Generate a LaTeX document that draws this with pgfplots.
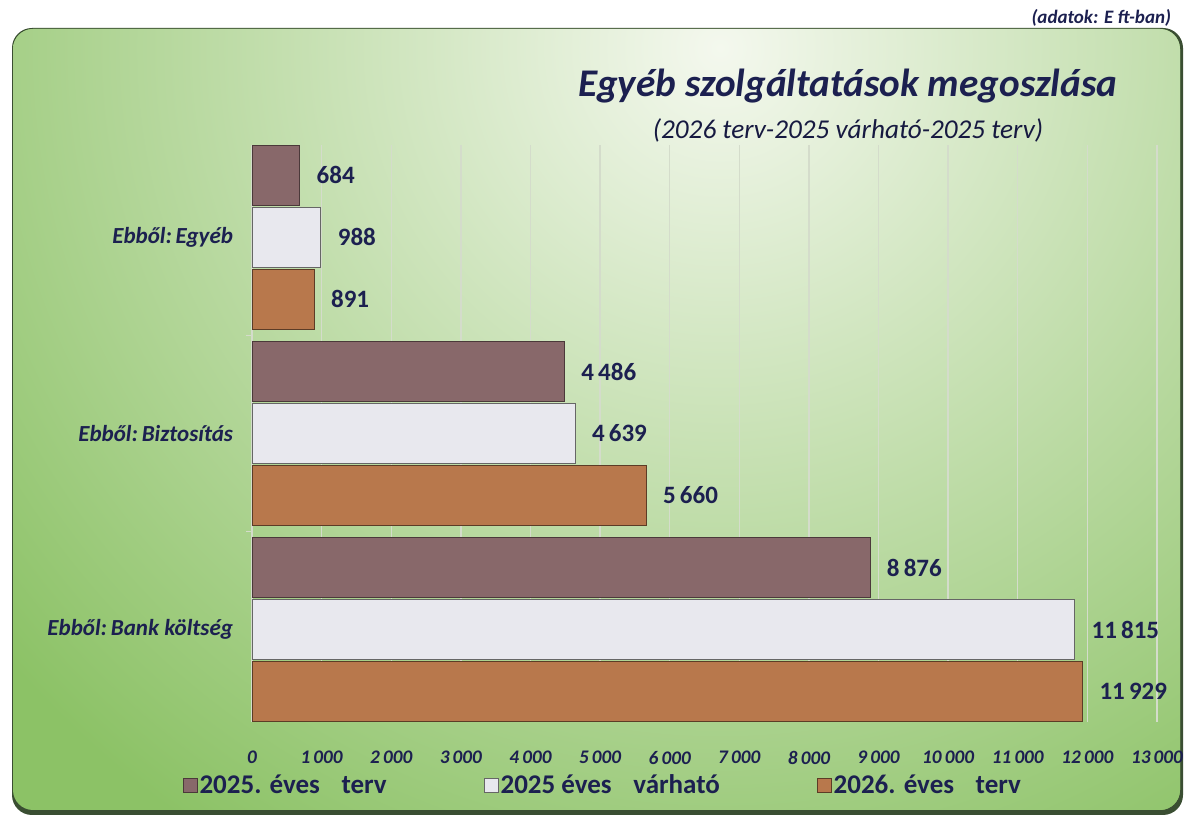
\documentclass[border=0pt]{standalone}
\usepackage{fontspec}
\setmainfont{Carlito}
\usepackage{pgfplots}
\pgfplotsset{compat=1.18}
\definecolor{navy}{HTML}{1C2050}
\definecolor{sA}{HTML}{88686A}
\definecolor{sB}{HTML}{E8E8EE}
\definecolor{sC}{HTML}{B8784C}
\definecolor{bg}{HTML}{8CC266}
\definecolor{bglight}{HTML}{F4F8EE}
\definecolor{gridc}{HTML}{D4DCCB}
\definecolor{frame}{HTML}{3A4E32}
\begin{document}
\begin{tikzpicture}
\useasboundingbox (0pt,0pt) rectangle (592pt,409pt);
\fill[white] (0pt,0pt) rectangle (592pt,409pt);
\fill[frame, rounded corners=10pt] (6pt,1.5pt) rectangle (591.5pt,395pt);
\begin{scope}
\clip[rounded corners=10pt] (6.5pt,4pt) rectangle (590pt,394.5pt);
\fill[bg] (0pt,0pt) rectangle (592pt,409pt);
\shade[inner color=bglight, outer color=bg] (360pt,385pt) circle (470pt);
\end{scope}
\begin{axis}[
  at={(126pt,48pt)}, anchor=south west,
  scale only axis, width=452.5pt, height=288.5pt,
  xbar, bar width=30pt,
  xmin=0, xmax=13000, ymin=-0.47, ymax=2.47,
  xtick={0,1000,...,13000},
  scaled x ticks=false,
  ytick={0,1,2},
  yticklabels={Ebből:\,Bank költség, Ebből:\,Biztosítás, Ebből:\,Egyéb},
  minor ytick={0.5,1.5},
  major tick length=0pt, minor tick length=3pt, tick align=outside,
  axis x line*=bottom, axis y line*=left,
  x axis line style={draw=none},
  y axis line style={draw=gridc, line width=0.8pt, -},
  every tick/.style={gridc, line width=0.8pt},
  xmajorgrids, grid style={gridc, line width=0.7pt},
  xticklabel style={font=\bfseries\itshape\fontsize{9.6}{11}\selectfont, text=navy, yshift=-13.5pt, inner sep=1pt},
  yticklabel style={font=\bfseries\itshape\fontsize{11.5}{13}\selectfont, text=navy, xshift=-6pt},
  /pgf/number format/1000 sep={\,},
  /pgf/number format/assume math mode=true,
  point meta=x,
  nodes near coords,
  nodes near coords style={font=\bfseries\fontsize{12.5}{14}\selectfont, text=navy, anchor=west, xshift=5pt},
  legend columns=3,
  legend style={draw=none, fill=none, at={(-0.077,-0.11)}, anchor=west,
    font=\bfseries\fontsize{13.5}{15}\selectfont, text=navy, inner sep=0pt,
    nodes={inner sep=1pt},
    /tikz/every even column/.append style={column sep=47.5pt}},
  legend image code/.code={\draw[#1] (0pt,-3.5pt) rectangle (7pt,3.5pt);},
]
\addplot[fill=sA, draw=sA!55!black, bar shift=31pt] coordinates {(8876,0) (4486,1) (684,2)};
\addplot[fill=sB, draw=gray!80!black, bar shift=0pt] coordinates {(11815,0) (4639,1) (988,2)};
\addplot[fill=sC, draw=sC!50!black, bar shift=-31pt] coordinates {(11929,0) (5660,1) (891,2)};
\legend{2025. éves\hspace{0.8em}terv, 2025 éves\hspace{0.8em}várható, 2026. éves\hspace{0.8em}terv}
\end{axis}
\node[font=\bfseries\itshape\fontsize{19.6}{22}\selectfont, text=navy] at (424pt,366pt) {Egyéb szolgáltatások megoszlása};
\node[font=\itshape\fontsize{13.6}{15}\selectfont, text=navy!80!black] at (424pt,344pt) {(2026 terv-2025 várható-2025 terv)};
\node[font=\bfseries\itshape\fontsize{9.5}{11}\selectfont, text=navy, anchor=east] at (589pt,400pt) {(adatok: E ft-ban)};
\end{tikzpicture}
\end{document}
